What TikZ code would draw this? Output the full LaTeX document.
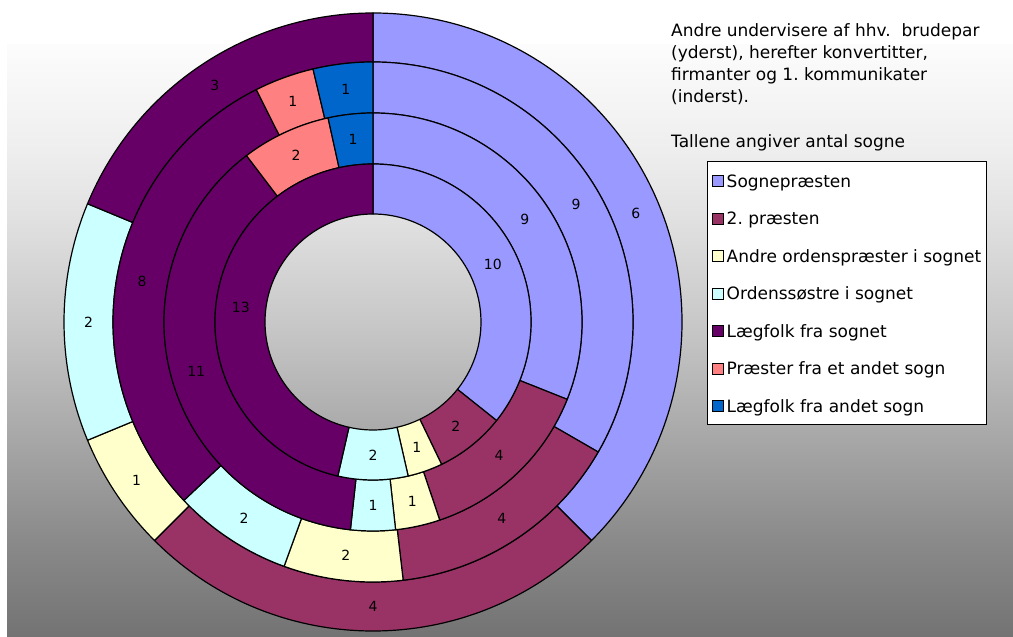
\documentclass[tikz,border=0pt]{standalone}
\usepackage{fontspec}
\setmainfont{DejaVu Sans}
\frenchspacing
\definecolor{cSogn}{HTML}{9999FF}
\definecolor{cPrae}{HTML}{993366}
\definecolor{cOrd}{HTML}{FFFFCC}
\definecolor{cSos}{HTML}{CCFFFF}
\definecolor{cLaeg}{HTML}{660066}
\definecolor{cAnd}{HTML}{FF8080}
\definecolor{cLaegA}{HTML}{0066CC}
\definecolor{g115}{RGB}{115,115,115}
\definecolor{g138}{RGB}{138,138,138}
\definecolor{g170}{RGB}{170,170,170}
\definecolor{g200}{RGB}{200,200,200}
\definecolor{g226}{RGB}{226,226,226}
\definecolor{g238}{RGB}{238,238,238}
\definecolor{g252}{RGB}{252,252,252}
\pgfdeclareverticalshading{bgshade}{100bp}{color(0bp)=(g115); color(25bp)=(g115); color(33.19bp)=(g138); color(42.57bp)=(g170); color(51.6bp)=(g200); color(60.81bp)=(g226); color(66.13bp)=(g238); color(75bp)=(g252); color(100bp)=(g252)}
\tikzset{
  segline/.style={draw=black, line width=1.2pt, line join=round},
  lbl/.style={font=\fontsize{14}{16}\selectfont, inner sep=0pt, text=black},
  sqkey/.style={draw=black, line width=0.9pt, minimum size=11pt, inner sep=0pt},
  ltxt/.style={anchor=base west, inner sep=0pt, font=\fontsize{17}{20}\selectfont},
  ttxt/.style={anchor=base west, inner sep=0pt, font=\fontsize{17}{20}\selectfont},
}
\newcommand{\dseg}[7]{%
  \draw[segline, fill=#1] (#2:#4) -- (#2:#5) arc[start angle=#2, end angle=#3, radius=#5pt] -- (#3:#4) arc[start angle=#3, end angle=#2, radius=#4pt] -- cycle;
  \node[lbl] (#7) at ({(#2+#3)/2}:{(#4+#5)/2}) {#6};
}
\begin{document}
\begin{tikzpicture}[x=1pt,y=1pt]
\useasboundingbox (0,0) rectangle (1013,637);
\fill[white] (0,0) rectangle (1013,637);
\shade[shading=bgshade] (7,0) rectangle (1013,592);
\begin{scope}[shift={(373,315)}]
% outer ring: brudepar
\dseg{cSogn}{90}{-45}{260}{309}{6}{r1a}
\dseg{cPrae}{-45}{-135}{260}{309}{4}{r1b}
\dseg{cOrd}{-135}{-157.5}{260}{309}{1}{r1c}
\dseg{cSos}{-157.5}{-202.5}{260}{309}{2}{r1d}
\dseg{cLaeg}{-202.5}{-270}{260}{309}{3}{r1e}
% ring 2: konvertitter
\dseg{cSogn}{90}{-30}{209}{260}{9}{r2a}
\dseg{cPrae}{-30}{-83.333}{209}{260}{4}{r2b}
\dseg{cOrd}{-83.333}{-110}{209}{260}{2}{r2c}
\dseg{cSos}{-110}{-136.667}{209}{260}{2}{r2d}
\dseg{cLaeg}{-136.667}{-243.333}{209}{260}{8}{r2e}
\dseg{cAnd}{-243.333}{-256.667}{209}{260}{1}{r2f}
\dseg{cLaegA}{-256.667}{-270}{209}{260}{1}{r2g}
% ring 3: firmanter
\dseg{cSogn}{90}{-21.724}{158}{209}{9}{r3a}
\dseg{cPrae}{-21.724}{-71.379}{158}{209}{4}{r3b}
\dseg{cOrd}{-71.379}{-83.793}{158}{209}{1}{r3c}
\dseg{cSos}{-83.793}{-96.207}{158}{209}{1}{r3d}
\dseg{cLaeg}{-96.207}{-232.759}{158}{209}{11}{r3e}
\dseg{cAnd}{-232.759}{-257.586}{158}{209}{2}{r3f}
\dseg{cLaegA}{-257.586}{-270}{158}{209}{1}{r3g}
% ring 4: 1. kommunikanter
\dseg{cSogn}{90}{-38.571}{108}{158}{10}{r4a}
\dseg{cPrae}{-38.571}{-64.286}{108}{158}{2}{r4b}
\dseg{cOrd}{-64.286}{-77.143}{108}{158}{1}{r4c}
\dseg{cSos}{-77.143}{-102.857}{108}{158}{2}{r4d}
\dseg{cLaeg}{-102.857}{-270}{108}{158}{13}{r4e}
\end{scope}
% legend
\node[draw=black, line width=1pt, fill=white, minimum width=279pt, minimum height=263pt, anchor=north west, inner sep=0pt] (legend) at (707,476) {};
\foreach \i/\c/\t in {1/cSogn/Sognepræsten, 2/cPrae/2. præsten, 3/cOrd/Andre ordenspræster i sognet, 4/cSos/Ordenssøstre i sognet, 5/cLaeg/Lægfolk fra sognet, 6/cAnd/Præster fra et andet sogn, 7/cLaegA/Lægfolk fra andet sogn}{
  \node[sqkey, fill=\c] (k\i) at (717.5,{456-37.5*(\i-1)}) {};
  \node[ltxt] (l\i) at (726.5,{449.5-37.5*(\i-1)}) {\t};
}
% title text
\node[ttxt] (t1) at (671,600.3) {Andre undervisere af hhv.\ \ brudepar};
\node[ttxt] (t2) at (671,578.2) {(yderst), herefter konvertitter,};
\node[ttxt] (t3) at (671,556.1) {firmanter og 1. kommunikater};
\node[ttxt] (t4) at (671,534.0) {(inderst).};
\node[ttxt] (t5) at (671,489.8) {Tallene angiver antal sogne};
\end{tikzpicture}
\end{document}
